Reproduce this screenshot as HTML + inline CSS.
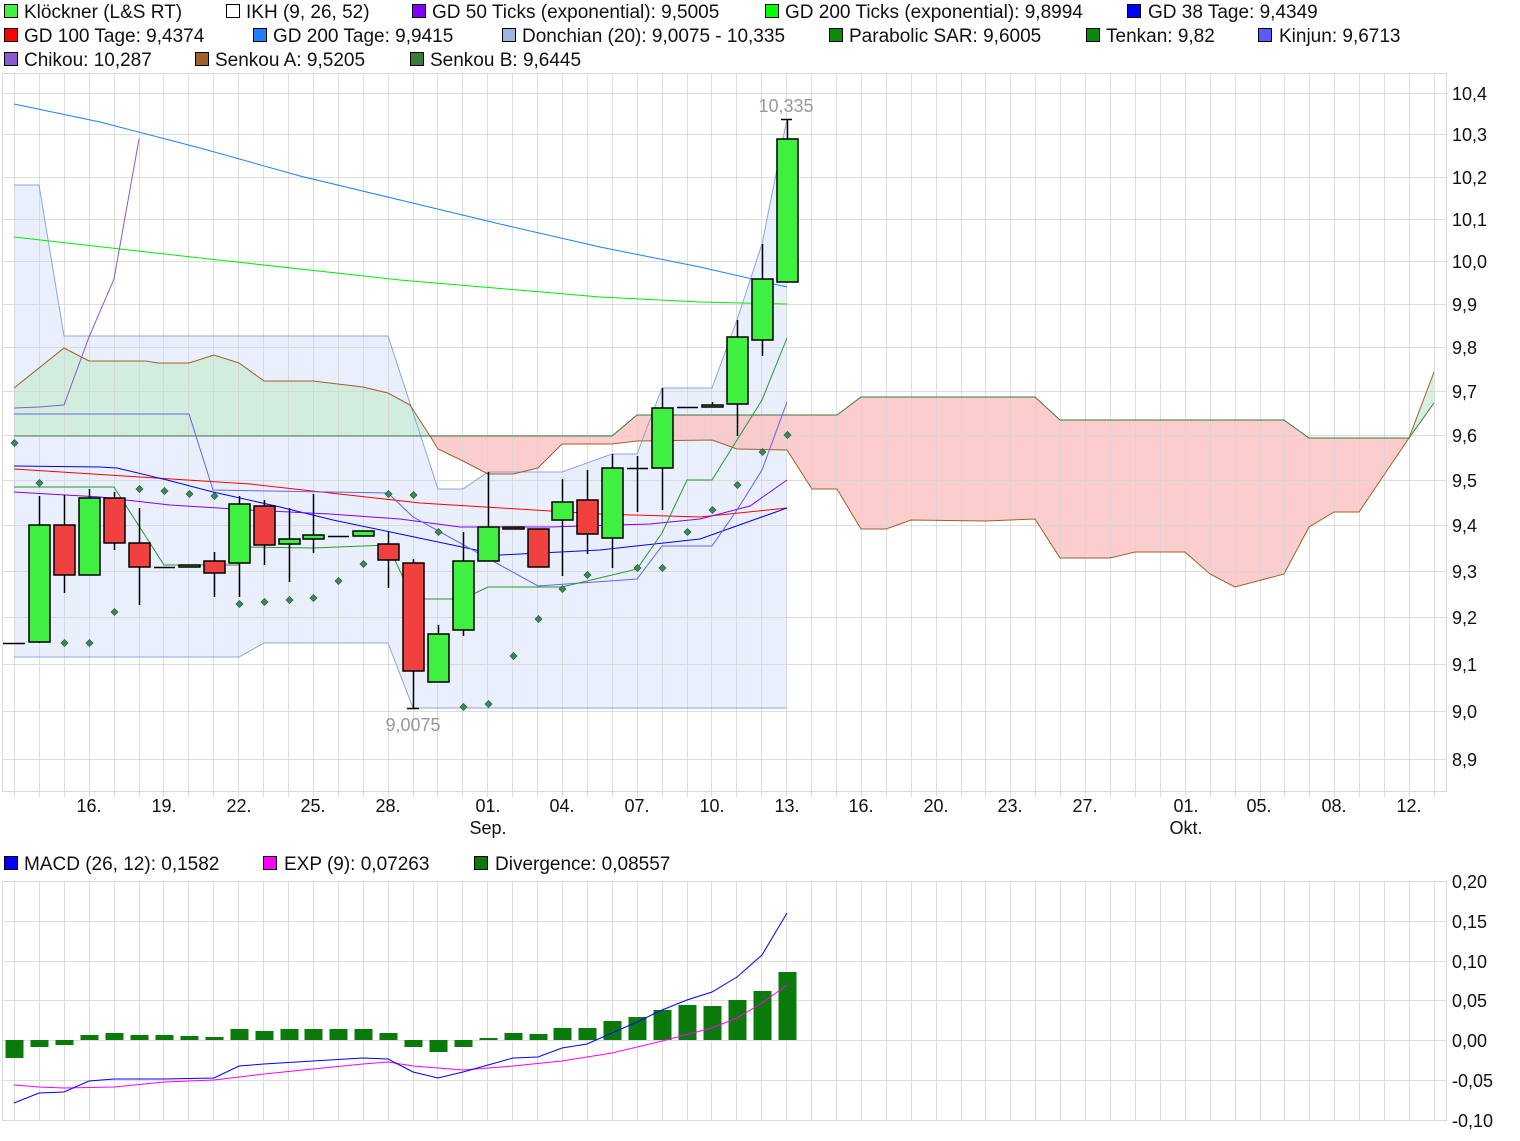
<!DOCTYPE html>
<html><head><meta charset="utf-8"><style>
body{margin:0;background:#fff;width:1520px;height:1141px;overflow:hidden;font-family:"Liberation Sans",sans-serif;}
svg{position:absolute;left:0;top:0}
text{font-family:"Liberation Sans",sans-serif;font-size:18px;fill:#111}
.lg text{font-size:19px}
</style></head><body>
<svg id="s" width="1520" height="1141" xmlns="http://www.w3.org/2000/svg">
<g id="bg"></g>
<g id="gr"></g>
<g class="lg">
<rect x="4.5" y="4.5" width="13" height="13" fill="#40f040" stroke="#000"/><text x="24" y="18">Klöckner (L&amp;S RT)</text>
<rect x="226.5" y="4.5" width="13" height="13" fill="#fff" stroke="#000"/><text x="246" y="18">IKH (9, 26, 52)</text>
<rect x="412.5" y="4.5" width="13" height="13" fill="#8000ff" stroke="#000"/><text x="432" y="18">GD 50 Ticks (exponential): 9,5005</text>
<rect x="765.5" y="4.5" width="13" height="13" fill="#00ff00" stroke="#000"/><text x="785" y="18">GD 200 Ticks (exponential): 9,8994</text>
<rect x="1127.5" y="4.5" width="13" height="13" fill="#0000ff" stroke="#000"/><text x="1148" y="18">GD 38 Tage: 9,4349</text>
<rect x="4.5" y="28.5" width="13" height="13" fill="#ff0000" stroke="#000"/><text x="24" y="42">GD 100 Tage: 9,4374</text>
<rect x="253.5" y="28.5" width="13" height="13" fill="#1e80ff" stroke="#000"/><text x="273" y="42">GD 200 Tage: 9,9415</text>
<rect x="502.5" y="28.5" width="13" height="13" fill="#a0b4e0" stroke="#000"/><text x="522" y="42">Donchian (20): 9,0075 - 10,335</text>
<rect x="829.5" y="28.5" width="13" height="13" fill="#0a8a0a" stroke="#000"/><text x="849" y="42">Parabolic SAR: 9,6005</text>
<rect x="1086.5" y="28.5" width="13" height="13" fill="#0a8a0a" stroke="#000"/><text x="1106" y="42">Tenkan: 9,82</text>
<rect x="1258.5" y="28.5" width="13" height="13" fill="#5a5aff" stroke="#000"/><text x="1279" y="42">Kinjun: 9,6713</text>
<rect x="4.5" y="52.5" width="13" height="13" fill="#8a5ad0" stroke="#000"/><text x="24" y="66">Chikou: 10,287</text>
<rect x="195.5" y="52.5" width="13" height="13" fill="#a0602a" stroke="#000"/><text x="215" y="66">Senkou A: 9,5205</text>
<rect x="410.5" y="52.5" width="13" height="13" fill="#3a7a3a" stroke="#000"/><text x="430" y="66">Senkou B: 9,6445</text>
<rect x="4.5" y="856.5" width="13" height="13" fill="#0000ff" stroke="#000"/><text x="24" y="870">MACD (26, 12): 0,1582</text>
<rect x="263.5" y="856.5" width="13" height="13" fill="#ff00ff" stroke="#000"/><text x="284" y="870">EXP (9): 0,07263</text>
<rect x="474.5" y="856.5" width="13" height="13" fill="#0a7a0a" stroke="#000"/><text x="495" y="870">Divergence: 0,08557</text>
</g>
<g>
<text x="1452" y="100">10,4</text><text x="1452" y="141">10,3</text><text x="1452" y="184">10,2</text><text x="1452" y="226">10,1</text><text x="1452" y="268">10,0</text><text x="1452" y="311">9,9</text><text x="1452" y="354">9,8</text><text x="1452" y="398">9,7</text><text x="1452" y="442">9,6</text><text x="1452" y="487">9,5</text><text x="1452" y="532">9,4</text><text x="1452" y="578">9,3</text><text x="1452" y="624">9,2</text><text x="1452" y="671">9,1</text><text x="1452" y="718">9,0</text><text x="1452" y="766">8,9</text>
<text x="1452" y="888">0,20</text><text x="1452" y="928">0,15</text><text x="1452" y="968">0,10</text><text x="1452" y="1007">0,05</text><text x="1452" y="1047">0,00</text><text x="1452" y="1087">-0,05</text><text x="1452" y="1127">-0,10</text>
</g>
<g text-anchor="middle">
<text x="89" y="812">16.</text><text x="164" y="812">19.</text><text x="239" y="812">22.</text><text x="313" y="812">25.</text><text x="388" y="812">28.</text><text x="488" y="812">01.</text><text x="488" y="834">Sep.</text><text x="562" y="812">04.</text><text x="637" y="812">07.</text><text x="712" y="812">10.</text><text x="787" y="812">13.</text><text x="861" y="812">16.</text><text x="936" y="812">20.</text><text x="1010" y="812">23.</text><text x="1085" y="812">27.</text><text x="1186" y="812">01.</text><text x="1186" y="834">Okt.</text><text x="1259" y="812">05.</text><text x="1334" y="812">08.</text><text x="1409" y="812">12.</text>
<text x="786" y="112" style="fill:#999">10,335</text><text x="413" y="731" style="fill:#999">9,0075</text>
</g>
<g id="fg"></g>
</svg>
<script>
var NS="http://www.w3.org/2000/svg";
function el(p,t,a){var e=document.createElementNS(NS,t);for(var k in a)e.setAttribute(k,a[k]);document.getElementById(p).appendChild(e);return e;}
function pl(p,pts,c,w,f,o){return el(p,f?'polygon':'polyline',{points:pts.map(function(q){return q.join(',')}).join(' '),fill:f||'none',stroke:c,'stroke-width':w||1,'fill-opacity':o||1});}
var hy=[93,134,177,219,261,304,347,391,435,480,525,571,617,664,711,759];
el('bg','rect',{x:2.5,y:73.5,width:1444,height:718,fill:'#fff',stroke:'#d8d8d8'});
el('bg','rect',{x:2.5,y:881.5,width:1444,height:239,fill:'#fff',stroke:'#d8d8d8'});
for(var k=0;k<=57;k++){var x=Math.round(14+k*24.91)+0.5;if(x>1446)break;
 el('gr','line',{x1:x,y1:74,x2:x,y2:797,stroke:'#d4d4d4','stroke-opacity':0.8});el('gr','line',{x1:x,y1:882,x2:x,y2:1120,stroke:'#dcdcdc'});}
hy.forEach(function(y){el('gr','line',{x1:2,y1:y+.5,x2:1447,y2:y+.5,stroke:'#d4d4d4','stroke-opacity':0.8});});
[921,961,1000,1040,1080].forEach(function(y){el('gr','line',{x1:2,y1:y+.5,x2:1447,y2:y+.5,stroke:'#dcdcdc'});});
var A=[[14,388],[64,348],[89,361],[146,361],[158,363],[189,363],[214,355],[239,363],[264,381],[313,381],[338,384],[363,387],[388,393],[410,405],[430,436],[438,449],[463,461],[488,474],[513,474],[538,468],[562,444],[612,444],[637,441],[712,440],[737,449],[787,450],[812,489],[837,489],[861,529],[886,529],[911,520],[986,521],[1035,519],[1060,558],[1110,558],[1135,552],[1185,552],[1210,574],[1235,587],[1284,574],[1309,527],[1334,512],[1359,512],[1384,475],[1409,438],[1434,372]];
var B=[[14,436],[430,436],[612,436],[637,415],[837,415],[861,397],[1035,397],[1060,420],[1284,420],[1309,438],[1409,438],[1434,403]];
function seg(L,a,b){return L.filter(function(p){return p[0]>=a&&p[0]<=b;});}
var DU=[[14,185],[39,185],[64,336],[388,336],[438,489],[463,489],[488,472],[562,472],[612,454],[637,454],[662,388],[712,388],[737,320],[762,244],[787,119]];
var DL=[[14,657],[239,657],[264,643],[388,643],[413,708],[787,708]];
pl('bg',DU.concat(DL.slice().reverse()),'none',0,'#c8d8f8',0.4);
pl('bg',seg(A,14,430).concat(seg(B,14,430).reverse()),'none',0,'#cfecda',0.92);
pl('bg',seg(A,430,1409).concat(seg(B,430,1409).reverse()),'none',0,'#fcc4c4',0.85);
pl('bg',seg(A,1409,1434).concat(seg(B,1409,1434).reverse()),'none',0,'#d2f0d8',0.9);
pl('fg',DU,'#8ea4e0',1);pl('fg',DL,'#8ea4e0',1);
pl('fg',A,'#a0602a',1);pl('fg',B,'#3a7a3a',1);
pl('fg',[[14,104],[100,122],[200,148],[300,176],[400,200],[500,224],[600,247],[700,267],[787,287]],'#1e80ff',1);
pl('fg',[[14,237],[200,258],[400,280],[600,297],[700,302],[787,304]],'#00ee00',1);
pl('fg',[[14,469],[140,477],[250,484],[420,503],[600,514],[700,517],[787,508]],'#ff0000',1);
pl('fg',[[14,466],[100,467],[117,468],[167,480],[213,492],[280,507],[333,520],[400,534],[500,555],[600,550],[700,539],[787,508]],'#0000ff',1);
pl('fg',[[14,492],[100,497],[170,505],[250,510],[330,514],[400,519],[460,527],[550,527],[650,524],[700,519],[750,506],[787,480]],'#8000ff',1);
pl('fg',[[14,408],[39,407],[64,405],[89,337],[114,279],[139,139]],'#8a5ad0',1);
pl('fg',[[14,414],[189,414],[213,490],[388,493],[413,517],[538,586],[637,579],[662,546],[712,546],[737,510],[762,470],[787,402]],'#6464f0',1);
pl('fg',[[14,487],[114,487],[164,565],[238,565],[250,547],[313,548],[388,545],[413,599],[463,599],[488,587],[562,587],[637,569],[662,533],[687,480],[712,480],[737,440],[762,400],[787,338]],'#2a9a2a',1);
var C=[[39,525,642,496,643,'g'],[64,525,575,495,593,'r'],[89,498,575,489,575,'g'],[114,498,543,492,550,'r'],[139,543,567,508,605,'r'],[164,567,567,567,567,'k'],[189,565,567,565,567,'g'],[214,561,573,552,597,'r'],[239,504,563,496,597,'g'],[264,506,545,500,565,'r'],[289,539,544,508,582,'g'],[313,535,539,494,553,'g'],[338,536,536,536,536,'k'],[363,531,536,531,536,'g'],[388,544,560,532,588,'r'],[413,563,671,559,708,'r'],[438,634,682,625,682,'g'],[463,561,630,532,636,'g'],[488,527,561,472,561,'g'],[513,527,529,527,529,'r'],[538,529,567,529,567,'r'],[562,502,520,479,576,'g'],[587,500,534,470,554,'r'],[612,468,538,454,568,'g'],[637,468,468,456,512,'k'],[662,408,468,388,510,'g'],[687,407,407,407,407,'k'],[712,405,407,402,407,'g'],[737,337,404,320,436,'g'],[762,279,340,244,356,'g'],[787,139,282,119,282,'g']];
el('fg','line',{x1:3,y1:643.5,x2:25,y2:643.5,stroke:'#000','stroke-width':1.5});
C.forEach(function(c){var x=c[0];
 el('fg','line',{x1:x+.5,y1:c[3],x2:x+.5,y2:c[4],stroke:'#000','stroke-width':1.5});
 if(c[5]=='k'){el('fg','line',{x1:x-10,y1:c[1]+.5,x2:x+11,y2:c[1]+.5,stroke:'#000','stroke-width':1.5});}
 else el('fg','rect',{x:x-10,y:c[1],width:21,height:Math.max(c[2]-c[1],2),fill:c[5]=='g'?'#40f040':'#f04040',stroke:'#000','stroke-width':1.5});});
el('fg','line',{x1:781,y1:119.5,x2:792,y2:119.5,stroke:'#000','stroke-width':1.5});
el('fg','line',{x1:407,y1:708.5,x2:419,y2:708.5,stroke:'#000','stroke-width':1.5});
[[14,443],[39,483],[64,643],[89,643],[114,612],[139,489],[164,491],[189,494],[214,496],[239,604],[264,602],[289,600],[313,598],[338,581],[363,564],[388,494],[413,495],[438,532],[463,707],[488,704],[513,656],[538,619],[562,589],[587,575],[637,568],[662,568],[687,532],[712,510],[737,485],[762,452],[787,435]].forEach(function(p){
 el('fg','polygon',{points:(p[0]+.5)+','+(p[1]-3.5)+' '+(p[0]+4)+','+p[1]+' '+(p[0]+.5)+','+(p[1]+3.5)+' '+(p[0]-3)+','+p[1],fill:'#3a8a5a',stroke:'#2a5a3a','stroke-width':.7});});
var D=[[14,1058],[39,1047],[64,1045],[89,1035],[114,1033],[139,1035],[164,1035],[189,1036],[214,1037],[239,1029],[264,1031],[289,1029],[313,1029],[338,1029],[363,1029],[388,1033],[413,1047],[438,1052],[463,1047],[488,1038],[513,1033],[538,1034],[562,1028],[587,1028],[612,1021],[637,1017],[662,1010],[687,1005],[712,1006],[737,1000],[762,991],[787,972]];
D.forEach(function(d){var y1=Math.min(d[1],1040),y2=Math.max(d[1],1040);el('fg','rect',{x:d[0]-8.5,y:y1,width:18,height:Math.max(y2-y1,1),fill:'#0a7a0a'});});
pl('fg',[[14,1085],[39,1087],[64,1088],[114,1087],[164,1082],[214,1080],[264,1074],[313,1069],[363,1064],[388,1062],[413,1066],[463,1070],[513,1066],[562,1061],[612,1053],[662,1041],[712,1028],[737,1018],[762,1003],[787,985]],'#ff00ff',1);
pl('fg',[[14,1103],[39,1093],[64,1092],[89,1081],[114,1079],[164,1079],[214,1078],[239,1066],[264,1064],[313,1061],[363,1058],[388,1059],[413,1072],[438,1078],[463,1072],[488,1065],[513,1058],[538,1057],[562,1048],[587,1044],[612,1033],[637,1022],[662,1010],[687,1000],[712,992],[737,977],[762,955],[787,913]],'#0000ff',1);
</script>
</body></html>
